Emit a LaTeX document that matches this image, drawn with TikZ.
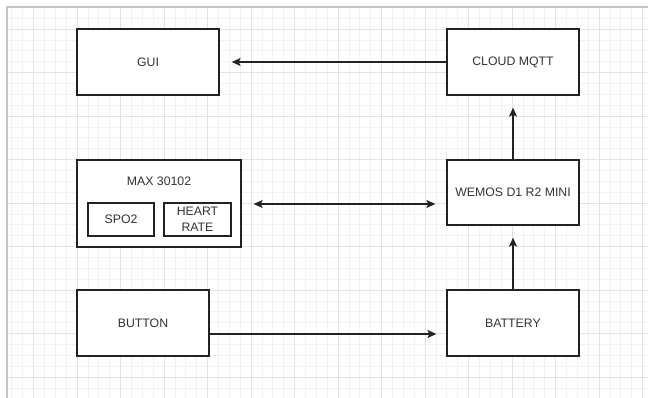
\documentclass[tikz,border=0pt]{standalone}
\usepackage{fontspec}
\setmainfont{Liberation Sans}
\usetikzlibrary{arrows.meta}

\definecolor{minorcol}{HTML}{F2F2F2}
\definecolor{majorcol}{HTML}{E3E3E3}
\definecolor{edgecol}{HTML}{C4C4C4}
\definecolor{inkcol}{HTML}{222222}
\definecolor{txtcol}{HTML}{333333}

\tikzset{
  block/.style={draw=inkcol,line width=1.3pt,fill=white,text=txtcol,
    inner sep=0pt,align=center,font=\fontsize{12.3}{15.5}\selectfont},
  link/.style={draw=inkcol,line width=1.3pt,
    >={Stealth[length=9pt,width=8pt,inset=2pt]}},
  minorgrid/.style={draw=minorcol,line width=0.6pt},
  majorgrid/.style={draw=majorcol,line width=0.8pt}
}

\begin{document}
\begin{tikzpicture}[x=1pt,y=-1pt]
  \useasboundingbox (0,0) rectangle (648,398);
  
  % rejilla de fondo
  \foreach \k in {-6,...,52}
    \draw[minorgrid] ({77+10.875*\k},7) -- ({77+10.875*\k},398);
  \foreach \k in {-2,...,33}
    \draw[minorgrid] (7,{29+10.875*\k}) -- (648,{29+10.875*\k});
  \foreach \k in {-4,0,4,...,52}
    \draw[majorgrid] ({77+10.875*\k},7) -- ({77+10.875*\k},398);
  \foreach \k in {0,4,...,32}
    \draw[majorgrid] (7,{29+10.875*\k}) -- (648,{29+10.875*\k});
  \draw[edgecol,line width=1.2pt] (7,398) -- (7,7) -- (648,7);
  
  % bloques
  \node[block,minimum width=142pt,minimum height=66pt] (gui) at (148,62) {GUI};
  \node[block,minimum width=132pt,minimum height=66pt] (cloud) at (513,62) {CLOUD MQTT};
  \node[block,minimum width=132pt,minimum height=65pt] (wemos) at (513,192.5) {WEMOS D1 R2 MINI};
  \node[block,minimum width=164pt,minimum height=87pt] (max) at (159,203.5) {};
  \node[text=txtcol,font=\fontsize{12.3}{15.5}\selectfont] (maxlabel) at (159,181) {MAX 30102};
  \node[block,minimum width=66pt,minimum height=33pt] (spo) at (121,219.5) {SPO2};
  \node[block,minimum width=67pt,minimum height=33pt] (heart) at (197.5,219.5) {HEART\\RATE};
  \node[block,minimum width=132pt,minimum height=66pt] (button) at (143,323) {BUTTON};
  \node[block,minimum width=132pt,minimum height=66pt] (battery) at (513,323) {BATTERY};
  
  % conexiones
  \draw[link,->,shorten >=12pt] (cloud.west) -- (gui.east);
  \draw[link,->,shorten >=12pt] (wemos.north) -- (cloud.south);
  \draw[link,<->,shorten <=12pt,shorten >=11pt] ([yshift=-0.5pt]max.east) -- ([yshift=-0.5pt]max.east -| wemos.west);
  \draw[link,->,shorten >=10pt] ([yshift=-11pt]button.east) -- ([yshift=-11pt]button.east -| battery.west);
  \draw[link,->,shorten >=12pt] (battery.north) -- (wemos.south);
\end{tikzpicture}
\end{document}
